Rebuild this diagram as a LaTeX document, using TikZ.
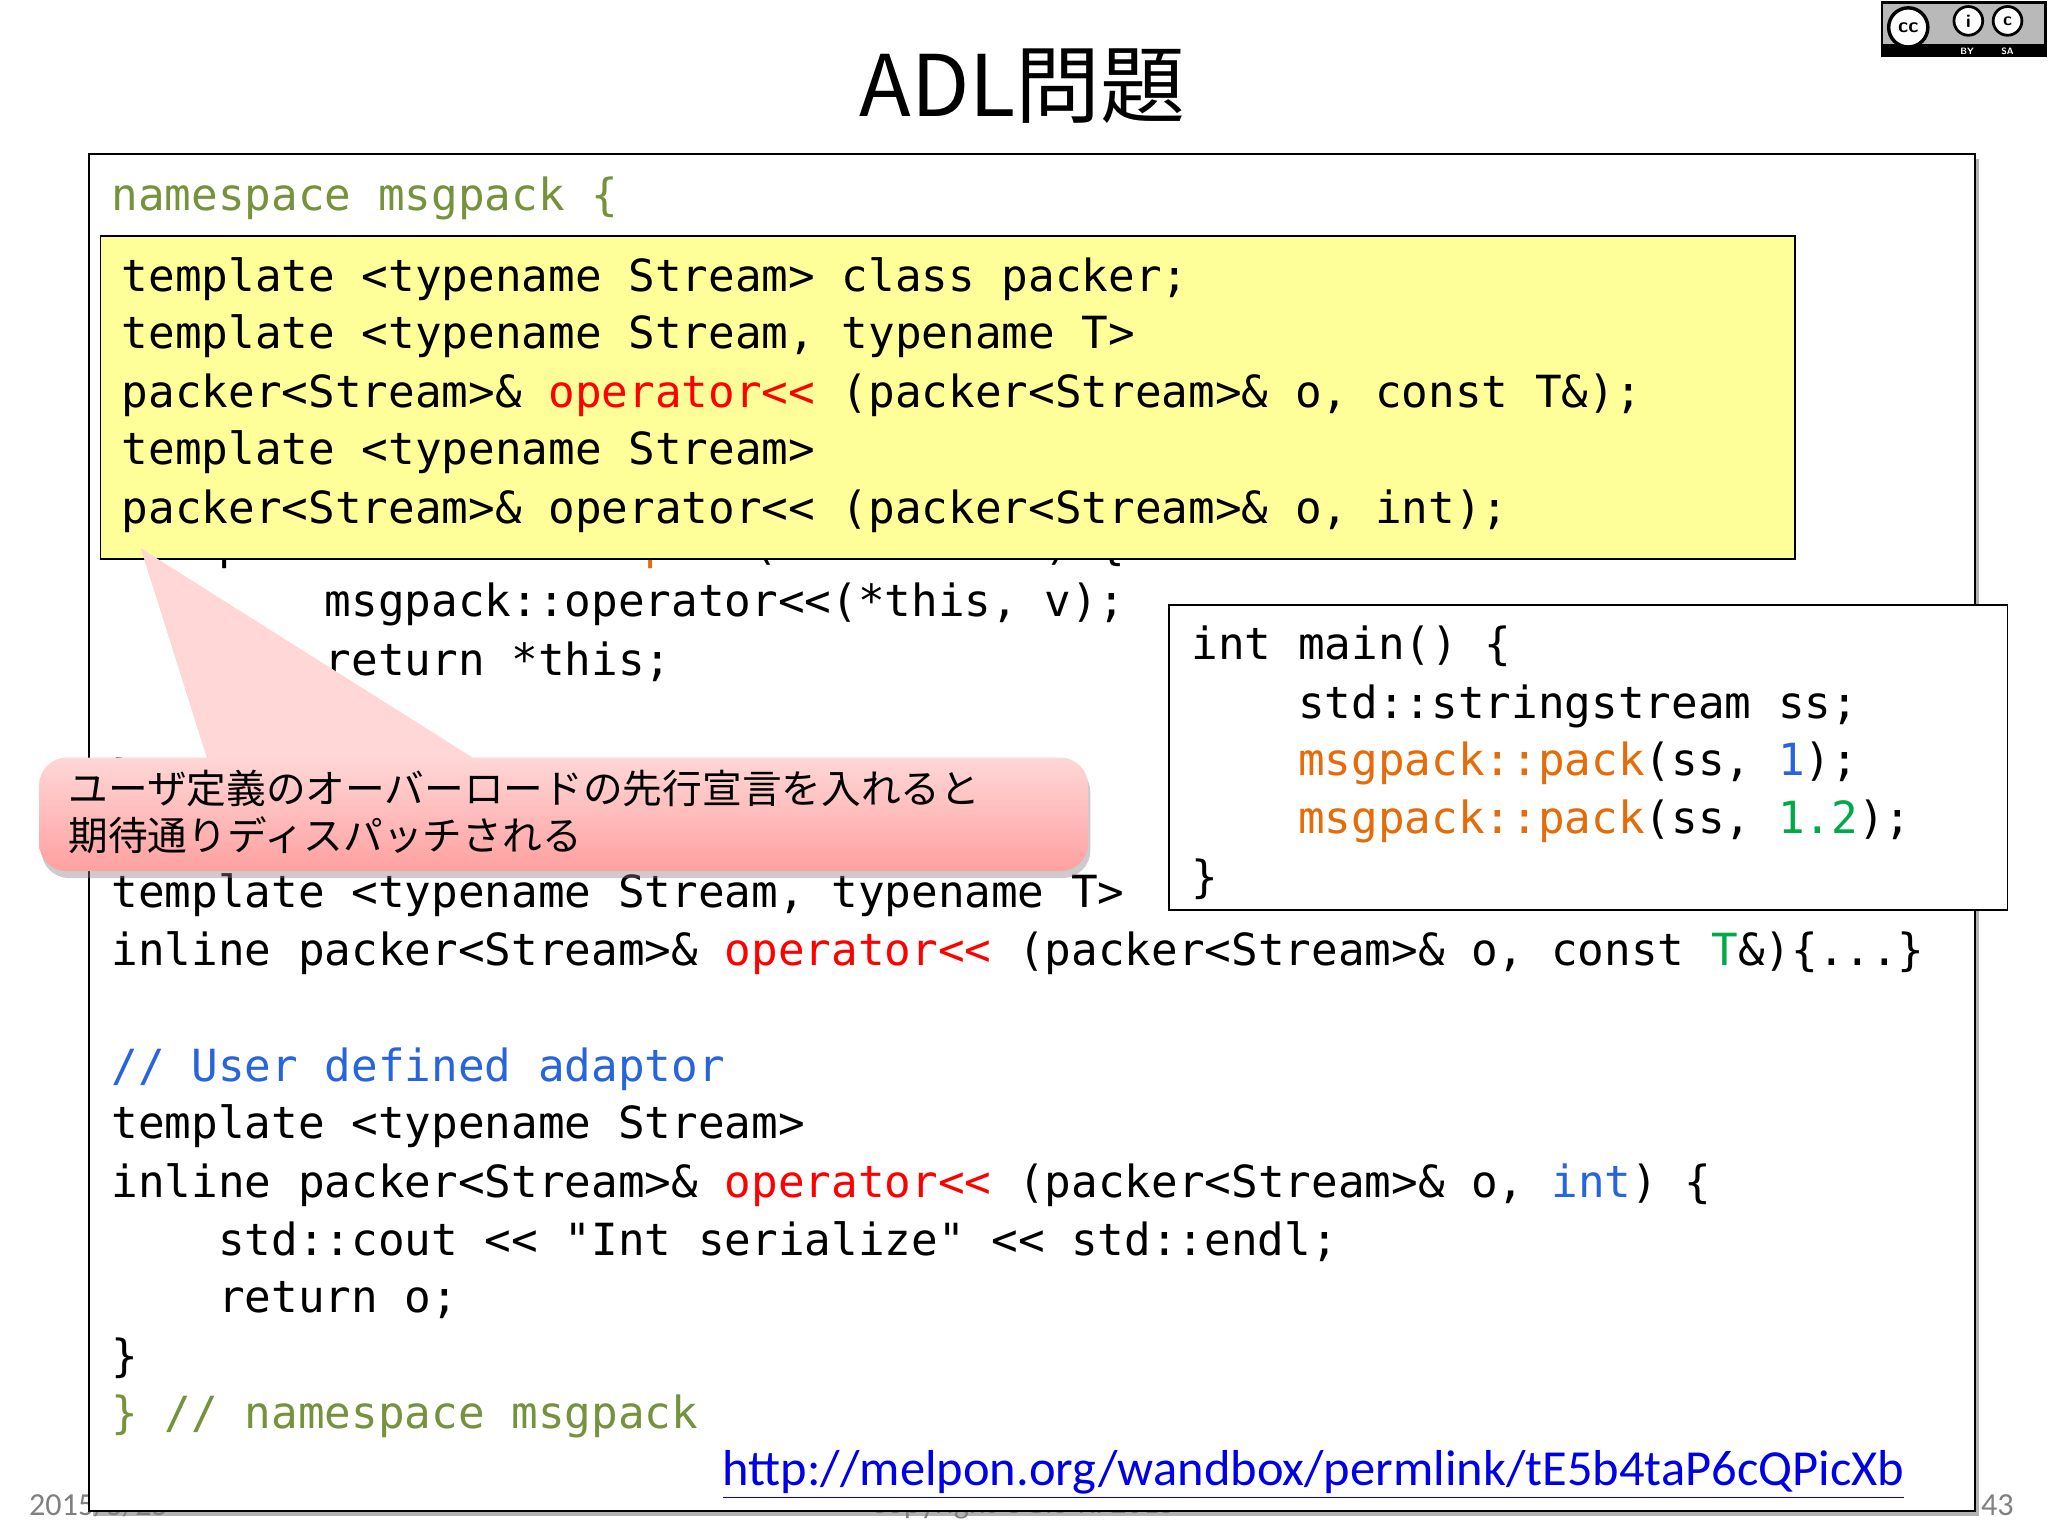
\documentclass[tikz,border=0pt]{standalone}
\usepackage{fontspec}
\newfontfamily\mono{DejaVu Sans Mono}
\newfontfamily\cjk{Noto Sans CJK JP}
\newfontfamily\calfont{Carlito}
\usetikzlibrary{shadows}
\definecolor{nsgreen}{RGB}{118,146,60}
\definecolor{opred}{RGB}{255,0,0}
\definecolor{cblue}{RGB}{40,100,220}
\definecolor{corange}{RGB}{228,108,10}
\definecolor{cgreen}{RGB}{0,170,70}
\definecolor{yel}{RGB}{255,255,153}
\definecolor{pinkA}{RGB}{255,215,215}
\definecolor{pinkB}{RGB}{255,160,160}
\definecolor{linkblue}{RGB}{0,0,230}
\tikzset{code/.style={anchor=base west,inner sep=0pt,font=\mono\fontsize{19.3}{24}\selectfont},
  jp/.style={anchor=base west,inner sep=0pt,font=\cjk\fontsize{17.3}{20}\selectfont},
  foot/.style={inner sep=0pt,text=gray,font=\calfont\fontsize{14}{16}\selectfont}}
\begin{document}
\begin{tikzpicture}[x=0.02cm,y=-0.02cm]
\useasboundingbox (0,0) rectangle (1568,1176);
\fill[white] (0,0) rectangle (1568,1176);
% footer
\node[foot,anchor=base west] (date) at (22,1160) {2015/5/25};
\node[foot] (copy) at (783,1152) {Copyright OGIS-RI 2015};
\node[foot,anchor=base east] (pg) at (1542,1160) {43};
% title
\node[font=\cjk\fontsize{37}{42}\selectfont,inner sep=0pt] (title) at (783,66) {ADL問題};
% cc logo
\fill[black] (1440,1) rectangle (1567,44);
\fill[gray!55] (1442,3) rectangle (1565,34);
\draw[fill=white,line width=1.5pt] (1461,21) circle (15);
\node[font=\sffamily\bfseries\fontsize{9}{9}\selectfont,inner sep=0pt] (cct) at (1461,21) {cc};
\draw[fill=white,line width=1.2pt] (1507,16) circle (11);
\draw[fill=white,line width=1.2pt] (1537,16) circle (11);
\node[font=\sffamily\bfseries\fontsize{8}{8}\selectfont,inner sep=0pt] (i1) at (1507,16) {i};
\node[font=\sffamily\bfseries\fontsize{8}{8}\selectfont,inner sep=0pt] (i2) at (1537,16) {c};
\node[font=\sffamily\bfseries\fontsize{4}{4}\selectfont,inner sep=0pt,text=white] (by) at (1506,39) {BY};
\node[font=\sffamily\bfseries\fontsize{4}{4}\selectfont,inner sep=0pt,text=white] (sa) at (1537,39) {SA};
% main box
\draw[fill=white,line width=0.8pt,drop shadow={shadow xshift=2pt,shadow yshift=-2pt,opacity=0.6}] (68,118) rectangle (1512,1157);
\node[code,text=nsgreen] (l1) at (85,161) {namespace msgpack \{};
\node[code] (l2) at (85,206) {template <typename Stream> class packer \{};
\node[code] (l3) at (85,250) {public:};
\node[code] (l4) at (85,295) {~~~~template <typename T>};
\node[code] (l5) at (85,339) {~~~~packer(Stream\& s):s\_(s)\{\}};
\node[code] (l6) at (85,384) {~~~~template <typename T>};
\node[code] (l7) at (85,428) {~~~~packer<Stream>\& \textcolor{corange}{pack}(const T\& v) \{};
\node[code] (l8) at (85,472) {~~~~~~~~msgpack::operator<<(*this, v);};
\node[code] (l9) at (85,517) {~~~~~~~~return *this;};
\node[code] (l10) at (85,561) {~~~~\}};
\node[code] (l11) at (85,606) {\};};
\node[code] (l12) at (85,695) {template <typename Stream, typename T>};
\node[code] (l13) at (85,739) {inline packer<Stream>\& \textcolor{opred}{operator<<} (packer<Stream>\& o, const \textcolor{cgreen}{T}\&)\{...\}};
\node[code,text=cblue] (l14) at (85,828) {// User defined adaptor};
\node[code] (l15) at (85,872) {template <typename Stream>};
\node[code] (l16) at (85,917) {inline packer<Stream>\& \textcolor{opred}{operator<<} (packer<Stream>\& o, \textcolor{cblue}{int}) \{};
\node[code] (l17) at (85,961) {~~~~std::cout << "Int serialize" << std::endl;};
\node[code] (l18) at (85,1005) {~~~~return o;};
\node[code] (l19) at (85,1050) {\}};
\node[code,text=nsgreen] (l20) at (85,1094) {\} // namespace msgpack};
\node[anchor=base west,inner sep=0pt,text=linkblue,font=\calfont\fontsize{22}{26}\selectfont] (link) at (553,1137) {\underline{http://melpon.org/wandbox/permlink/tE5b4taP6cQPicXb}};
% yellow box
\draw[fill=yel,line width=0.8pt] (77,181) rectangle (1374,428);
\node[code] (y1) at (93,223) {template <typename Stream> class packer;};
\node[code] (y2) at (93,267) {template <typename Stream, typename T>};
\node[code] (y3) at (93,312) {packer<Stream>\& \textcolor{opred}{operator<<} (packer<Stream>\& o, const T\&);};
\node[code] (y4) at (93,356) {template <typename Stream>};
\node[code] (y5) at (93,401) {packer<Stream>\& operator<< (packer<Stream>\& o, int);};
% main() box
\draw[fill=white,line width=0.8pt] (895,463) rectangle (1537,697);
\node[code] (m1) at (912,505) {int main() \{};
\node[code] (m2) at (912,550) {~~~~std::stringstream ss;};
\node[code] (m3) at (912,594) {~~~~\textcolor{corange}{msgpack::pack}(ss, \textcolor{cblue}{1});};
\node[code] (m4) at (912,638) {~~~~\textcolor{corange}{msgpack::pack}(ss, \textcolor{cgreen}{1.2});};
\node[code] (m5) at (912,683) {\}};
% callout
\coordinate (tip) at (108,420);
\fill[pinkA,drop shadow={shadow xshift=1pt,shadow yshift=-3pt,opacity=0.4}] (tip) -- (365,585) -- (160,585) -- cycle;
\shade[top color=pinkA,bottom color=pinkB,rounded corners=12pt,drop shadow={shadow xshift=1pt,shadow yshift=-3pt,opacity=0.4}] (30,580) rectangle (833,667);
\fill[pinkA] (tip) -- (365,582) -- (160,582) -- cycle;
\node[jp] (c1) at (52,615) {ユーザ定義のオーバーロードの先行宣言を入れると};
\node[jp] (c2) at (52,651) {期待通りディスパッチされる};
\end{tikzpicture}
\end{document}
